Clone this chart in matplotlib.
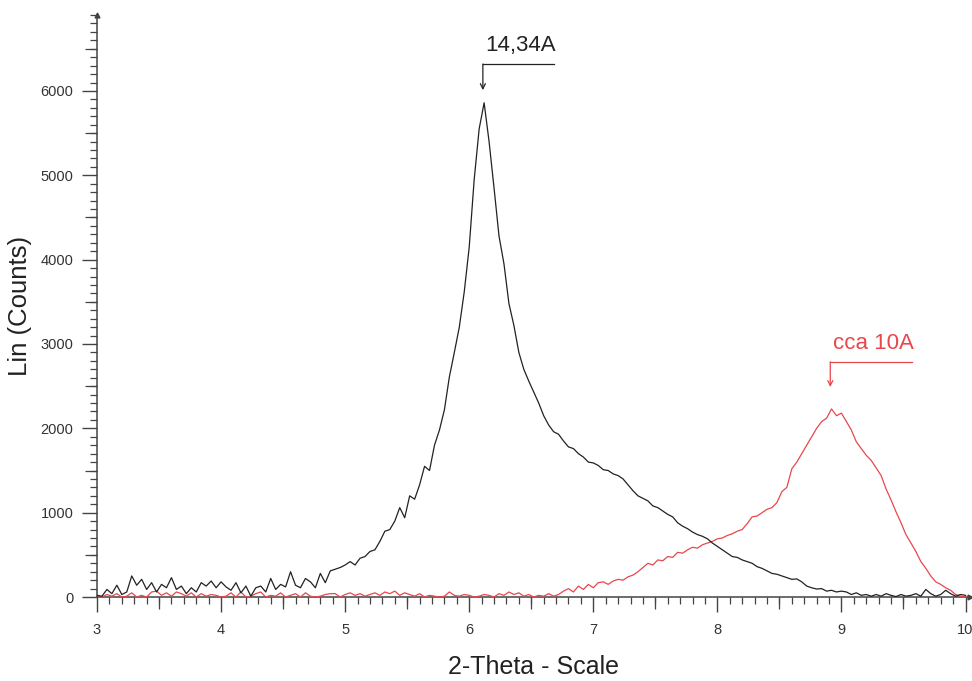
import numpy as np
import matplotlib
matplotlib.use("Agg")
import matplotlib.pyplot as plt
from matplotlib.ticker import MultipleLocator

plt.rcParams['font.family'] = ['Liberation Sans', 'DejaVu Sans']

# 2-theta grid (deg), step 0.04
theta_start = 3.0
theta_step = 0.04

# black pattern (Lin counts)
counts_black = [
    20, 10, 90, 40, 140, 30, 60, 250, 140, 210,
    90, 170, 60, 150, 110, 230, 90, 130, 40, 110,
    60, 170, 130, 190, 110, 180, 120, 80, 170, 50,
    130, 10, 110, 130, 60, 220, 90, 150, 120, 300,
    140, 110, 220, 180, 110, 280, 170, 310, 330, 350,
    380, 420, 380, 460, 480, 540, 560, 660, 780, 800,
    900, 1060, 940, 1200, 1160, 1330, 1550, 1500, 1800, 1980,
    2220, 2610, 2900, 3200, 3620, 4150, 4950, 5550, 5860, 5400,
    4850, 4280, 3950, 3480, 3220, 2900, 2700, 2560, 2430, 2300,
    2150, 2040, 1960, 1930, 1850, 1780, 1760, 1700, 1660, 1600,
    1590, 1560, 1510, 1500, 1460, 1440, 1400, 1330, 1260, 1200,
    1170, 1140, 1080, 1060, 1020, 980, 950, 880, 840, 810,
    770, 740, 720, 690, 640, 600, 560, 520, 480, 470,
    440, 420, 400, 360, 340, 310, 280, 270, 250, 230,
    210, 215, 180, 130, 110, 95, 100, 70, 80, 60,
    70, 60, 30, 50, 20, 30, 10, 30, 10, 40,
    20, 5, 30, 10, 20, 40, 10, 90, 40, 10,
    30, 80, 40, 10, 30, 20,
]

# red pattern (Lin counts)
counts_red = [
    20, 0, 30, 10, 40, 0, 10, 50, 0, 20,
    0, 60, 70, 20, 50, 10, 60, 40, 10, 50,
    0, 40, 10, 30, 20, 0, 10, 50, 0, 60,
    0, 10, 40, 60, 0, 20, 10, 50, 0, 20,
    40, 0, 50, 10, 0, 10, 30, 40, 40, 0,
    30, 50, 20, 40, 10, 30, 50, 20, 60, 40,
    70, 20, 50, 30, 10, 40, 0, 20, 10, 0,
    10, 60, 20, 10, 30, 20, 0, 10, 30, 20,
    0, 40, 20, 60, 30, 50, 10, 30, 0, 20,
    10, 40, 10, 30, 70, 100, 60, 130, 90, 150,
    110, 170, 180, 150, 190, 210, 200, 240, 260, 300,
    350, 400, 380, 440, 430, 480, 470, 530, 520, 560,
    590, 580, 620, 640, 660, 690, 700, 730, 750, 780,
    800, 870, 950, 960, 1000, 1040, 1060, 1120, 1250, 1300,
    1520, 1600, 1700, 1800, 1900, 2000, 2080, 2120, 2230, 2150,
    2180, 2080, 1980, 1840, 1760, 1680, 1620, 1530, 1440, 1280,
    1150, 1010, 880, 740, 640, 540, 420, 340, 250, 180,
    150, 110, 80, 30, 10, 0,
]

two_theta = theta_start + theta_step * np.arange(len(counts_black))

peak_labels = ['14,34A', 'cca 10A']
peak_pos = [6.11, 8.91]
peak_tip = [6010, 2490]
bracket_y = [6320, 2790]
bracket_end = [6.68, 9.57]

black = '#222222'
red = '#e8474c'
axis_col = '#444444'

fig = plt.figure(figsize=(9.72, 6.81), dpi=100)
ax = fig.add_axes([0.0998, 0.1233, 0.898, 0.8546])

ax.plot(two_theta, counts_red, color=red, lw=0.9, zorder=3)
ax.plot(two_theta, counts_black, color=black, lw=0.9, zorder=4)

ax.set_xlim(3, 10.035)
ax.set_ylim(0, 6900)

for s in ['top', 'right']:
    ax.spines[s].set_visible(False)
for s in ['left', 'bottom']:
    ax.spines[s].set_color(axis_col)
    ax.spines[s].set_linewidth(1.1)

ax.xaxis.set_major_locator(MultipleLocator(1))
ax.xaxis.set_minor_locator(MultipleLocator(0.1))
ax.yaxis.set_major_locator(MultipleLocator(1000))
ax.yaxis.set_minor_locator(MultipleLocator(100))
ax.tick_params(which='major', length=11, width=1.0, color=axis_col,
               labelsize=10.5, labelcolor='#333333')
ax.tick_params(which='minor', length=5, width=0.9, color=axis_col)
ax.tick_params(axis='x', which='major', pad=8)
ax.tick_params(axis='y', which='major', pad=6)

# half-step ticks, medium length
secx = ax.secondary_xaxis('bottom')
secx.set_xticks(np.arange(3.5, 10, 1.0))
secx.tick_params(length=8.5, width=0.9, color=axis_col, labelbottom=False)
secx.spines['bottom'].set_visible(False)
secy = ax.secondary_yaxis('left')
secy.set_yticks(np.arange(500, 6900, 1000))
secy.tick_params(length=8.5, width=0.9, color=axis_col, labelleft=False)
secy.spines['left'].set_visible(False)

# small arrow heads at axis ends
ax.plot(0, 1, marker='^', color=axis_col, ms=3.5, transform=ax.transAxes, clip_on=False)
ax.plot(1, 0, marker='>', color=axis_col, ms=3.5, transform=ax.transAxes, clip_on=False)

ax.set_xlabel('2-Theta - Scale', fontsize=18, color='#222222')
ax.xaxis.set_label_coords(0.5, -0.100)
ax.set_ylabel('Lin (Counts)', fontsize=18.5, color='#222222')
ax.yaxis.set_label_coords(-0.075, 0.5)

for lab, x0, tip, yl, x1, col in zip(peak_labels, peak_pos, peak_tip,
                                     bracket_y, bracket_end, [black, red]):
    ax.plot([x0, x1], [yl, yl], color=col, lw=0.9, clip_on=False)
    ax.annotate('', xy=(x0, tip), xytext=(x0, yl),
                arrowprops=dict(arrowstyle='->', color=col, lw=0.9,
                                shrinkA=0, shrinkB=0, mutation_scale=9))
    ax.text(x0 + 0.02, yl + 90, lab, color=col, fontsize=16,
            ha='left', va='bottom')

fig.savefig('out.png', dpi=100)
